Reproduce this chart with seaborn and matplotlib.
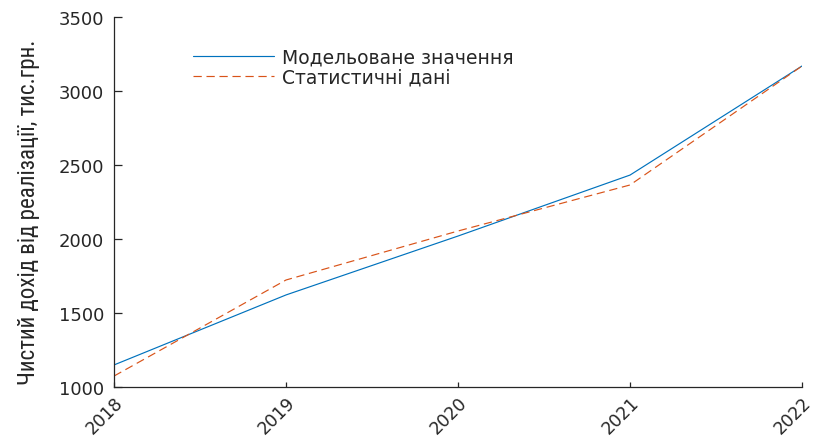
import matplotlib
matplotlib.use("Agg")
import matplotlib.pyplot as plt
import seaborn as sns
import pandas as pd
from matplotlib import font_manager

years = [2018, 2019, 2020, 2021, 2022]
model_values = [1149, 1622, 2020, 2432, 3169]
stat_values = [1074, 1723, 2054, 2365, 3169]
series_names = ["Модельоване значення", "Статистичні дані"]
ylabel = "Чистий дохід від реалізації, тис.грн."
yticks = [1000, 1500, 2000, 2500, 3000, 3500]

sns.set_theme(style="white")
plt.rcParams['font.family'] = ['DejaVu Sans']

TXT = "#262626"

df = pd.DataFrame({
    "year": years * 2,
    "value": model_values + stat_values,
    "series": [series_names[0]] * len(years) + [series_names[1]] * len(years),
})

fig = plt.figure(figsize=(8.21, 4.39), dpi=100)
ax = fig.add_axes([0.1389, 0.1162, 0.9769 - 0.1389, 0.959 - 0.1162])

palette = {series_names[0]: "#0072BD", series_names[1]: "#D95319"}
sns.lineplot(data=df, x="year", y="value", hue="series", style="series",
             palette=palette, dashes={series_names[0]: "", series_names[1]: (7, 4)},
             linewidth=0.85, ax=ax, legend=True)

ax.set_xlim(2018, 2022)
ax.set_ylim(1000, 3500)
ax.set_xticks(years)
ax.set_yticks(yticks)
ax.set_xlabel("")

# condensed font for the y label
names = {f.name for f in font_manager.fontManager.ttflist}
narrow = "DejaVu Sans"
for cand in ["Roboto Condensed", "Liberation Sans Narrow", "Arial Narrow",
             "PT Sans Narrow", "Fira Sans Condensed", "Sofia Sans Condensed",
             "Fira Sans Extra Condensed"]:
    if cand in names:
        narrow = cand
        break
yl = ax.set_ylabel(ylabel, family=[narrow, "DejaVu Sans"], fontsize=16, color=TXT)
ax.yaxis.set_label_coords(-0.1076, 0.4757)

for s in ["top", "right"]:
    ax.spines[s].set_visible(False)
for s in ["left", "bottom"]:
    ax.spines[s].set_color(TXT)
    ax.spines[s].set_linewidth(0.9)

ax.tick_params(axis="both", which="major", direction="in", width=0.9, colors=TXT,
               labelsize=13, labelcolor=TXT, bottom=True, left=True)
ax.tick_params(axis="y", length=6, pad=7)
ax.tick_params(axis="x", length=3.6, pad=4, labelsize=12.5)
for lab in ax.get_xticklabels():
    lab.set_rotation(45)
    lab.set_ha("right")
    lab.set_va("top")
    lab.set_rotation_mode("anchor")

leg = ax.legend(loc="upper left", bbox_to_anchor=(0.1148, 0.917), frameon=False,
                fontsize=13.5, handlelength=4.3, handletextpad=0.45,
                labelspacing=0.05, borderaxespad=0, borderpad=0)
for t in leg.get_texts():
    t.set_color(TXT)

# fit y label length to the reference span (~345 px)
fig.canvas.draw()
r = fig.canvas.get_renderer()
ext = yl.get_window_extent(r)
yl.set_fontsize(16 * 345.0 / ext.height)

fig.savefig("out.png", dpi=100)
